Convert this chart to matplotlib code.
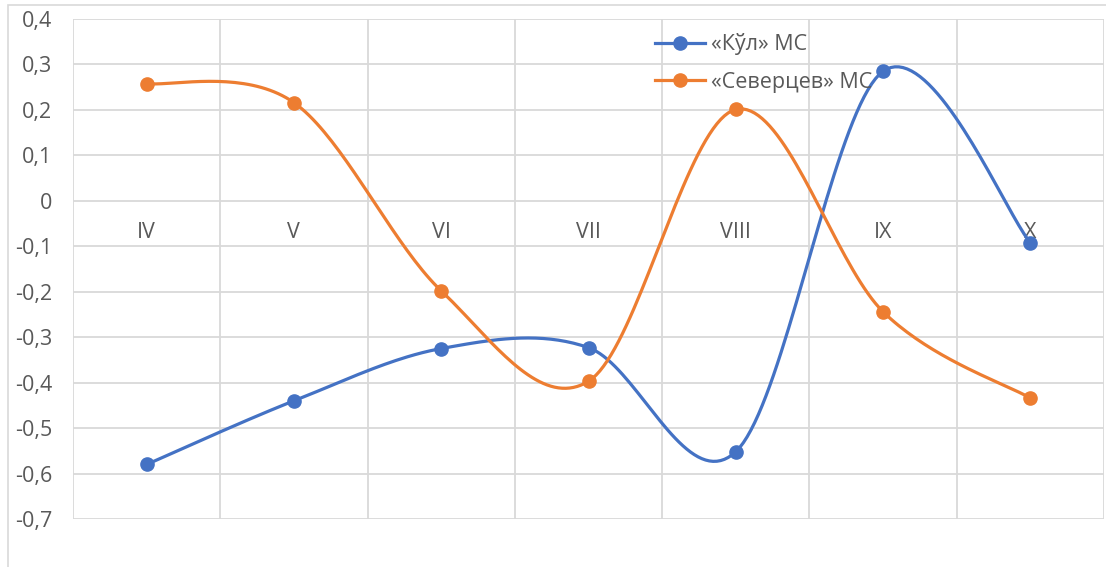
import numpy as np
import matplotlib.pyplot as plt
from matplotlib.patches import Rectangle

# ── Data ──────────────────────────────────────────────────────────────────────
months   = ["IV", "V", "VI", "VII", "VIII", "IX", "X"]
kul      = [-0.58, -0.44, -0.325, -0.323, -0.552, 0.285, -0.092]
severtsev = [0.258, 0.216, -0.198, -0.397, 0.201, -0.244, -0.434]
yticks   = [0.4, 0.3, 0.2, 0.1, 0.0, -0.1, -0.2, -0.3, -0.4, -0.5, -0.6, -0.7]

BLUE   = "#4472C4"
ORANGE = "#ED7D31"
TEXT   = "#595959"
GRID   = "#D9D9D9"


def smooth(xs, ys, n=40):
    """Excel-like smoothed line: cubic Bezier with Catmull-Rom control points."""
    p = np.column_stack([xs, ys]).astype(float)
    p = np.vstack([p[0], p, p[-1]])
    t = np.linspace(0, 1, n)[:, None]
    out = []
    for i in range(1, len(p) - 2):
        p0, p3 = p[i], p[i + 1]
        c1 = p0 + (p[i + 1] - p[i - 1]) / 6
        c2 = p3 - (p[i + 2] - p[i]) / 6
        seg = ((1 - t) ** 3) * p0 + 3 * ((1 - t) ** 2) * t * c1 \
            + 3 * (1 - t) * t ** 2 * c2 + t ** 3 * p3
        out.append(seg if i == 1 else seg[1:])
    seg = np.vstack(out)
    return seg[:, 0], seg[:, 1]


plt.rcParams["font.family"] = ["Open Sans", "DejaVu Sans"]

fig = plt.figure(figsize=(11.06, 5.67), dpi=100)
fig.patches.append(Rectangle((8 / 1106, -0.1), 1.2, 1 - 5 / 567 + 0.1,
                             transform=fig.transFigure, fill=False,
                             edgecolor=GRID, linewidth=1.2))
ax = fig.add_axes([73 / 1106, 1 - 519 / 567, 1031 / 1106, 500 / 567])

x = np.arange(len(months))
for vals, color, label in [(kul, BLUE, "«Кўл» МС"),
                           (severtsev, ORANGE, "«Северцев» МС")]:
    sx, sy = smooth(x, vals)
    ax.plot(sx, sy, color=color, linewidth=2.3, zorder=3)
    ax.plot(x, vals, "o", color=color, markersize=9.5, zorder=4)
    ax.plot([], [], color=color, linewidth=2.3, marker="o",
            markersize=9.5, label=label)

ax.set_xlim(-0.5, len(months) - 0.5)
ax.set_ylim(-0.7, 0.4)
ax.set_yticks(yticks)
ax.set_yticklabels([f"{v:.1f}".replace(".", ",") if v != 0 else "0"
                    for v in yticks])
ax.set_xticks(x)
ax.set_xticklabels(months)
ax.set_xticks(np.arange(-0.5, len(months), 1), minor=True)

ax.grid(True, axis="y", color=GRID, linewidth=1.3)
ax.grid(True, axis="x", which="minor", color=GRID, linewidth=1.3)
ax.set_axisbelow(True)

for side in ["top", "right", "left"]:
    ax.spines[side].set_visible(False)
ax.spines["bottom"].set_position(("data", 0))
ax.spines["bottom"].set_visible(False)

ax.tick_params(axis="x", which="both", length=0, pad=15,
               labelsize=15.5, labelcolor=TEXT)
ax.tick_params(axis="y", length=0, pad=15, labelsize=15.5, labelcolor=TEXT)

ax.legend(loc="upper left", bbox_to_anchor=(636 / 1106, 1 - 14 / 567),
          bbox_transform=fig.transFigure, frameon=False, fontsize=15.5,
          labelcolor=TEXT, handlelength=2.3, handletextpad=0.3,
          labelspacing=0.75)

fig.savefig("out.png", dpi=100)
